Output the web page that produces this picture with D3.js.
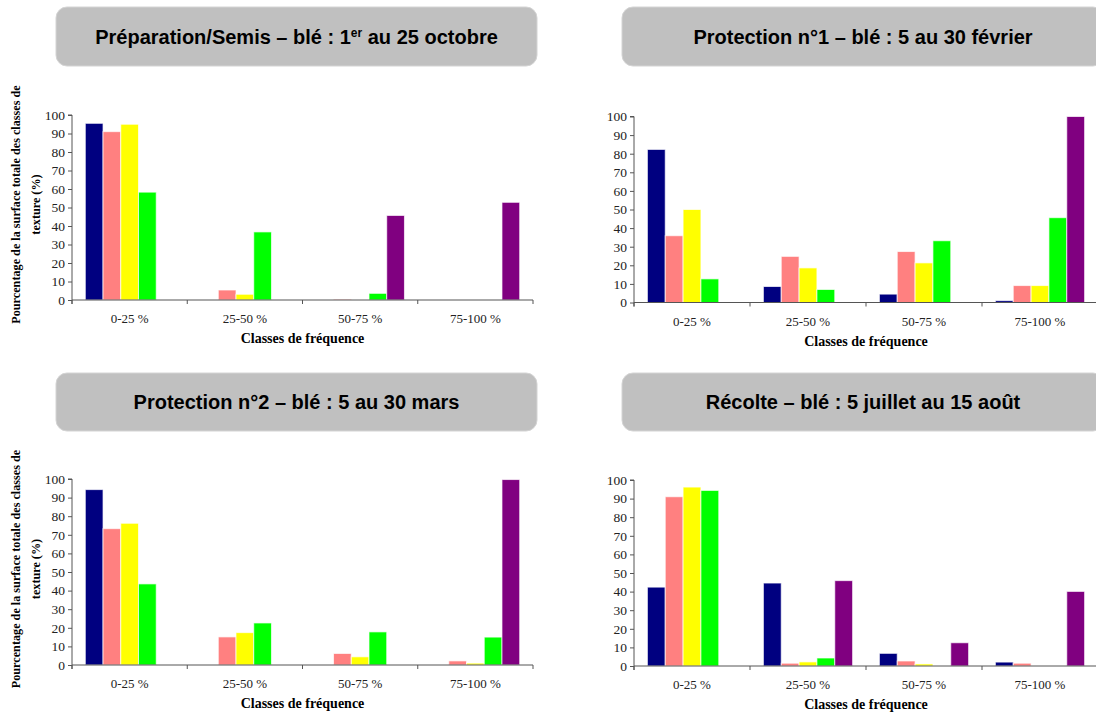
<!DOCTYPE html>
<html><head><meta charset="utf-8">
<script src="https://cdn.jsdelivr.net/npm/d3@7"></script>
<style>body{margin:0;background:#fff}svg{display:block}</style>
</head><body>
<svg id="c" width="1096" height="720"></svg>
<script>
const categories = ["0-25 %", "25-50 %", "50-75 %", "75-100 %"];
const seriesNames = ["s1", "s2", "s3", "s4", "s5"];
const seriesColors = ["#000080", "#FF8080", "#FFFF00", "#00FF00", "#800080"];
const yTicks = [0, 10, 20, 30, 40, 50, 60, 70, 80, 90, 100];

// values per category, one entry per series (navy, pink, yellow, green, purple)
const semisValues = [
  [95.5, 91, 95, 58.3, 0],
  [0, 5.4, 3.1, 36.8, 0],
  [0, 0.5, 0, 3.6, 45.7],
  [0, 0, 0, 0, 52.8]
];
const protection1Values = [
  [82.3, 35.9, 50, 12.7, 0],
  [8.6, 24.8, 18.6, 7, 0],
  [4.5, 27.4, 21.3, 33.2, 0],
  [1, 9.1, 9.1, 45.6, 100]
];
const protection2Values = [
  [94.3, 73.3, 76.2, 43.6, 0],
  [0, 15.1, 17.4, 22.6, 0],
  [0, 6.2, 4.4, 17.8, 0],
  [0, 2.2, 1, 15, 99.7]
];
const recolteValues = [
  [42.4, 91, 96.2, 94.4, 0],
  [44.6, 1.5, 2.2, 4.3, 45.9],
  [6.8, 2.7, 1.1, 0, 12.5],
  [2.1, 1.5, 0, 0, 40.1]
];

const titles = [
  ["Préparation/Semis – blé : 1", "er", " au 25 octobre"],
  ["Protection n°1 – blé : 5 au 30 février"],
  ["Protection n°2 – blé : 5 au 30 mars"],
  ["Récolte – blé : 5 juillet au 15 août"]
];
const xTitle = "Classes de fréquence";
const yTitle1 = "Pourcentage de la surface totale des classes de";
const yTitle2 = "texture (%)";

const panels = [
  {vals: semisValues, title: titles[0], ax: 72, ex: 533, y0: 300, y1: 115, bx: 56, bw: 481, by: 7, bh: 59, ylab: true},
  {vals: protection1Values, title: titles[1], ax: 634, ex: 1098, y0: 302.5, y1: 116.5, bx: 622, bw: 482, by: 7, bh: 59, ylab: false},
  {vals: protection2Values, title: titles[2], ax: 72, ex: 533, y0: 665, y1: 479, bx: 56, bw: 481, by: 373, bh: 58, ylab: true},
  {vals: recolteValues, title: titles[3], ax: 634, ex: 1098, y0: 666, y1: 480, bx: 622, bw: 482, by: 373, bh: 58, ylab: false}
];

const svg = d3.select("#c");
const serif = "'Liberation Serif','Times New Roman',serif";
const sans = "'Liberation Sans',Arial,sans-serif";

panels.forEach(p => {
  const g = svg.append("g");
  // title box
  g.append("rect").attr("x", p.bx).attr("y", p.by).attr("width", p.bw).attr("height", p.bh)
    .attr("rx", 11).attr("ry", 11).attr("fill", "#c0c0c0").attr("stroke", "#d4d4d4").attr("stroke-width", 1);
  const t = g.append("text").attr("x", p.bx + p.bw / 2).attr("y", p.by + p.bh / 2 + 7)
    .attr("text-anchor", "middle").attr("font-family", sans).attr("font-weight", "bold")
    .attr("font-size", 20).attr("fill", "#000");
  p.title.forEach((s, i) => {
    const ts = t.append("tspan").text(s);
    if (i === 1) ts.attr("font-size", 12).attr("dy", -7);
    if (i === 2) ts.attr("dy", 7);
  });

  const x = d3.scaleBand().domain(categories).range([p.ax, p.ex]).padding(0);
  const xs = d3.scaleBand().domain(seriesNames).range([0, x.bandwidth()]).paddingInner(0).paddingOuter(0.75);
  const y = d3.scaleLinear().domain([0, 100]).range([p.y0, p.y1]);

  // bars
  categories.forEach((c, ci) => {
    seriesNames.forEach((s, si) => {
      const v = p.vals[ci][si];
      if (v <= 0) return;
      g.append("rect")
        .attr("x", x(c) + xs(s)).attr("y", y(v))
        .attr("width", xs.bandwidth()).attr("height", y(0) - y(v))
        .attr("fill", seriesColors[si]).attr("stroke", "#fff").attr("stroke-opacity", 0.7).attr("stroke-width", 1);
    });
  });

  // y axis
  const yAxis = d3.axisLeft(y).tickValues(yTicks).tickSize(4).tickPadding(3).tickFormat(d3.format("d"));
  const ya = g.append("g").attr("transform", `translate(${p.ax},0)`).call(yAxis);
  ya.select(".domain").attr("stroke", "#555").attr("d", `M-4,${p.y1}H0V${p.y0 + 4}`);
  ya.selectAll(".tick line").attr("stroke", "#555");
  ya.selectAll(".tick text").attr("font-family", serif).attr("font-size", 13.5).attr("fill", "#222");

  // x axis
  const xa = g.append("g").attr("transform", `translate(0,${p.y0})`);
  xa.append("line").attr("x1", p.ax).attr("x2", p.ex).attr("y1", 0).attr("y2", 0).attr("stroke", "#555");
  d3.range(categories.length + 1).forEach(i => {
    const xx = i < categories.length ? x(categories[i]) : p.ex;
    xa.append("line").attr("x1", xx).attr("x2", xx).attr("y1", 0).attr("y2", 4).attr("stroke", "#555");
  });
  categories.forEach(c => {
    xa.append("text").attr("x", x(c) + x.bandwidth() / 2).attr("y", 23)
      .attr("text-anchor", "middle").attr("font-family", serif).attr("font-size", 13).attr("fill", "#222").text(c);
  });
  g.append("text").attr("x", (p.ax + Math.min(p.ex, 1096 + 2)) / 2).attr("y", p.y0 + 43)
    .attr("text-anchor", "middle").attr("font-family", serif).attr("font-weight", "bold")
    .attr("font-size", 14).attr("fill", "#000").text(xTitle);

  if (p.ylab) {
    const cy = (p.y0 + p.y1) / 2 - 3;
    g.append("text").attr("transform", `translate(20,${cy}) rotate(-90)`).attr("text-anchor", "middle")
      .attr("font-family", serif).attr("font-weight", "bold").attr("font-size", 12.2).attr("fill", "#000").text(yTitle1);
    g.append("text").attr("transform", `translate(40,${cy}) rotate(-90)`).attr("text-anchor", "middle")
      .attr("font-family", serif).attr("font-weight", "bold").attr("font-size", 12.2).attr("fill", "#000").text(yTitle2);
  }
});
</script>
</body></html>
